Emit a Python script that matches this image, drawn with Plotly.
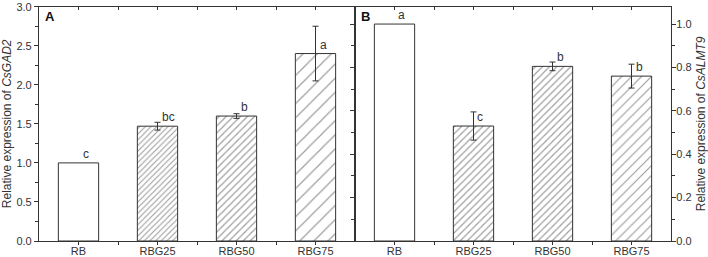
import plotly.graph_objects as go

categories = ["RB", "RBG25", "RBG50", "RBG75"]
gad2_values = [1.0, 1.47, 1.60, 2.40]
gad2_errors = [None, 0.05, 0.03, 0.35]
gad2_letters = ["c", "bc", "b", "a"]
almt9_values = [1.0, 0.53, 0.805, 0.76]
almt9_errors = [None, 0.065, 0.02, 0.055]
almt9_letters = ["a", "c", "b", "b"]
gad2_ticks = [0.0, 0.5, 1.0, 1.5, 2.0, 2.5, 3.0]
almt9_ticks = [0.0, 0.2, 0.4, 0.6, 0.8, 1.0]

W, H = 708, 257
FONT = "Arial, Liberation Sans, sans-serif"
DARK = "#333333"
pos = list(range(len(categories)))

xA = [39 / W, 355 / W]
xB = [355 / W, 671 / W]
yD = [(H - 241) / H, (H - 6.7) / H]

fig = go.Figure()

def add_panel(vals, errs, xa, ya, sizes, solid):
    for i, v in enumerate(vals):
        shape = "" if i == 0 else "/"
        fig.add_trace(go.Bar(
            x=[pos[i]], y=[v], width=0.51, xaxis=xa, yaxis=ya,
            marker=dict(color="white", line=dict(color=DARK, width=1),
                        pattern=dict(shape=shape, fgcolor="#3c3c3c", bgcolor="white",
                                     size=sizes[i], solidity=solid[i])),
            showlegend=False, hoverinfo="skip"))
    idx = [i for i, e in enumerate(errs) if e is not None]
    fig.add_trace(go.Scatter(
        x=[pos[i] for i in idx], y=[vals[i] for i in idx], xaxis=xa, yaxis=ya,
        mode="markers", marker=dict(opacity=0, size=1),
        error_y=dict(type="data", array=[errs[i] for i in idx], color=DARK,
                     thickness=1, width=3),
        showlegend=False, hoverinfo="skip"))

add_panel(gad2_values, gad2_errors, "x", "y", [8, 4, 5, 10], [0.1, 0.28, 0.24, 0.12])
add_panel(almt9_values, almt9_errors, "x2", "y2", [8, 5, 5, 7], [0.1, 0.24, 0.24, 0.17])

# invisible traces for top tick overlay axes
for xa, ya in (("x3", "y"), ("x4", "y2")):
    fig.add_trace(go.Scatter(x=[0], y=[0], xaxis=xa, yaxis=ya, mode="markers",
                             marker=dict(opacity=0), showlegend=False, hoverinfo="skip"))

tickfont = dict(family=FONT, size=11, color=DARK)
titlefont = dict(family=FONT, size=12, color=DARK)

def xaxis_cfg(domain, anchor):
    return dict(domain=domain, anchor=anchor, range=[-0.5, 3.5],
                tickvals=pos, ticktext=categories, ticks="outside", ticklen=3,
                tickcolor=DARK, tickwidth=1, showline=True, linecolor=DARK, linewidth=1.2,
                mirror=True, showgrid=False, zeroline=False, tickfont=tickfont,
                ticklabelstandoff=-3, automargin=False,
                minor=dict(tickvals=[0.5, 1.5, 2.5], ticks="outside", ticklen=3,
                           tickcolor=DARK, tickwidth=1))

def top_cfg(anchor, over):
    return dict(overlaying=over, anchor=anchor, side="top", range=[-0.5, 3.5],
                tickvals=[0, 0.5, 1, 1.5, 2, 2.5, 3], ticks="inside", ticklen=3,
                tickcolor=DARK, showticklabels=False, showline=False,
                showgrid=False, zeroline=False, automargin=False)

fig.update_layout(
    width=W, height=H, margin=dict(l=0, r=0, t=0, b=0), barmode="overlay",
    paper_bgcolor="white", plot_bgcolor="white", showlegend=False,
    font=dict(family=FONT, color=DARK),
    xaxis=xaxis_cfg(xA, "y"),
    xaxis2=xaxis_cfg(xB, "y2"),
    xaxis3=top_cfg("y", "x"),
    xaxis4=top_cfg("y2", "x2"),
    yaxis=dict(domain=yD, anchor="x", range=[0, 3], tickvals=gad2_ticks,
               ticktext=[f"{v:.1f}" for v in gad2_ticks], ticks="outside", ticklen=4,
               tickcolor=DARK, showline=True, linecolor=DARK, linewidth=1.2, mirror=True,
               showgrid=False, zeroline=False, tickfont=tickfont, automargin=False,
               title=dict(text="Relative expression of <i>CsGAD2</i>", font=titlefont,
                          standoff=2),
               minor=dict(dtick=0.25, tick0=0, ticks="outside", ticklen=3, tickcolor=DARK)),
    yaxis2=dict(domain=yD, anchor="x2", side="right", range=[0, 1.08], tickvals=almt9_ticks,
                ticktext=[f"{v:.1f}" for v in almt9_ticks], ticks="outside", ticklen=4,
                tickcolor=DARK, showline=True, linecolor=DARK, linewidth=1.2, mirror="ticks",
                showgrid=False, zeroline=False, tickfont=tickfont, ticklabelstandoff=-2,
                automargin=False,
                title=dict(text="Relative expression of <i>CsALMT9</i>", font=titlefont,
                           standoff=11),
                minor=dict(dtick=0.1, tick0=0, ticks="outside", ticklen=3, tickcolor=DARK)),
)

annotations = []
for i, (v, t) in enumerate(zip(gad2_values, gad2_letters)):
    annotations.append(dict(x=i, y=v, xref="x", yref="y", text=t, showarrow=False,
                            xanchor="left", yanchor="bottom", xshift=2, yshift=0,
                            font=dict(family=FONT, size=12, color=DARK)))
for i, (v, t) in enumerate(zip(almt9_values, almt9_letters)):
    annotations.append(dict(x=i, y=v, xref="x2", yref="y2", text=t, showarrow=False,
                            xanchor="left", yanchor="bottom", xshift=2, yshift=0,
                            font=dict(family=FONT, size=12, color=DARK)))
annotations += [
    dict(x=43 / W, y=(H - 17) / H, xref="paper", yref="paper", text="<b>A</b>",
         showarrow=False, xanchor="left", yanchor="middle",
         font=dict(family=FONT, size=13, color="#111111")),
    dict(x=359 / W, y=(H - 17) / H, xref="paper", yref="paper", text="<b>B</b>",
         showarrow=False, xanchor="left", yanchor="middle",
         font=dict(family=FONT, size=13, color="#111111")),
]
fig.update_layout(annotations=annotations)

fig.write_html(
    "out.html",
    config={"displayModeBar": False},
    post_script="document.body.style.margin='0';document.body.style.padding='0';"
                "document.documentElement.style.overflow='hidden';",
)
